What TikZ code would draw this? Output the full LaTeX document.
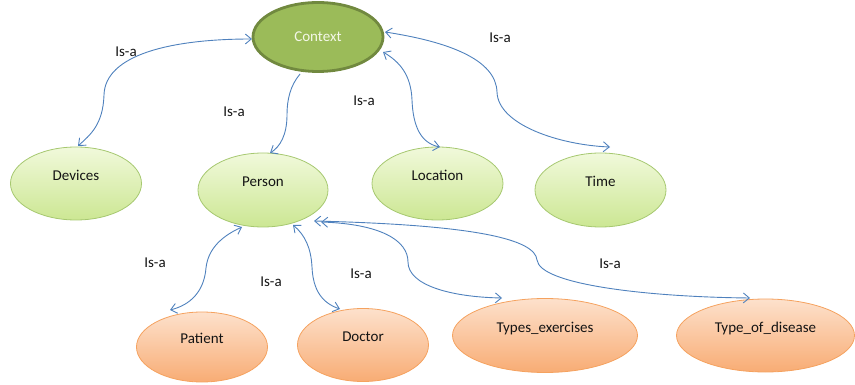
\documentclass[tikz,border=0pt]{standalone}
\usepackage{fontspec}
\setmainfont{Carlito}
\usetikzlibrary{arrows.meta,shapes.geometric}
\definecolor{grntop}{HTML}{F1F9DB}
\definecolor{grnbot}{HTML}{CCE793}
\definecolor{grnline}{HTML}{A6C870}
\definecolor{orgtop}{HTML}{FDE1CC}
\definecolor{orgbot}{HTML}{F8AC74}
\definecolor{orgline}{HTML}{F5A25F}
\definecolor{ctxfill}{HTML}{9BBB59}
\definecolor{ctxline}{HTML}{71893F}
\definecolor{ctxtext}{HTML}{F4F7E8}
\definecolor{arrowblue}{HTML}{4F81BD}
\definecolor{labeltext}{HTML}{141414}
\newcommand{\liftup}[1]{\raisebox{3.2pt}[0pt][0pt]{#1}}
\begin{document}
\begin{tikzpicture}[x=1pt,y=-1pt,
  every node/.style={font=\fontsize{15}{18}\selectfont, text=labeltext, inner sep=0pt},
  ctxnode/.style={ellipse, draw=ctxline, line width=2.8pt, fill=ctxfill, text=ctxtext,
    minimum width=130pt, minimum height=69pt},
  gnode/.style={ellipse, draw=grnline, line width=0.8pt, top color=grntop, bottom color=grnbot},
  onode/.style={ellipse, draw=orgline, line width=0.8pt, top color=orgtop, bottom color=orgbot},
  isa/.style={draw=arrowblue, line width=0.9pt,
    {Straight Barb[length=6pt,width=10pt]}-{Straight Barb[length=6pt,width=10pt]}},
  isaone/.style={draw=arrowblue, line width=0.9pt,
    -{Straight Barb[length=6pt,width=10pt]}},
  isalabel/.style={text=labeltext}
]
\useasboundingbox (0,0) rectangle (855,385);

% nodes
\node[ctxnode] (ctx) at (318,37) {Context};
\node[gnode, minimum width=131pt, minimum height=73pt] (dev) at (76,183.5) {\liftup{Devices}};
\node[gnode, minimum width=130pt, minimum height=74pt] (per) at (263,190) {\liftup{Person}};
\node[gnode, minimum width=131pt, minimum height=73pt] (loc) at (437.5,183.5) {\liftup{Location}};
\node[gnode, minimum width=131pt, minimum height=74pt] (tim) at (600.5,190) {\liftup{Time}};
\node[onode, minimum width=131pt, minimum height=70pt] (pat) at (202,347) {\liftup{Patient}};
\node[onode, minimum width=131pt, minimum height=73pt] (doc) at (363,345) {\liftup{Doctor}};
\node[onode, minimum width=185pt, minimum height=74pt] (typ) at (545,335.5) {\liftup{Types\_exercises}};
\node[onode, minimum width=178pt, minimum height=73pt] (dis) at (765.5,335.5) {\liftup{Type\_of\_disease}};

% labels
\node[isalabel] (l1) at (126,52) {Is-a};
\node[isalabel] (l2) at (234,112) {Is-a};
\node[isalabel] (l3) at (364,101) {Is-a};
\node[isalabel] (l4) at (500,38) {Is-a};
\node[isalabel] (l5) at (155,263) {Is-a};
\node[isalabel] (l6) at (271,282) {Is-a};
\node[isalabel] (l7) at (361,274) {Is-a};
\node[isalabel] (l8) at (610,264) {Is-a};

% connectors
\draw[isa] ([shift={(-66,2)}]ctx.center) .. controls (170,39) and (105,55) .. (104,95)
  .. controls (103,125) and (90,135) .. ([shift={(2,-37.5)}]dev.center);
\draw[isaone] ([shift={(-18,37)}]ctx.center) .. controls (290,86) and (287,100) .. (287,115)
  .. controls (287,135) and (280,147) .. ([shift={(7,-37)}]per.center);
\draw[isa] ([shift={(65,15)}]ctx.center) .. controls (400,62) and (411,75) .. (412,100)
  .. controls (413,125) and (420,143) .. ([shift={(2.5,-36.5)}]loc.center);
\draw[isa] ([shift={(67,-5)}]ctx.center) .. controls (450,42) and (496,60) .. (497,92)
  .. controls (498,125) and (560,145) .. ([shift={(9.5,-43)}]tim.center);
\draw[isa] ([shift={(-21,37)}]per.center) .. controls (220,237) and (208,250) .. (206,268)
  .. controls (204,292) and (190,305) .. ([shift={(-32,-37)}]pat.center);
\draw[isa] ([shift={(30,35)}]per.center) .. controls (305,235) and (311,248) .. (312,267)
  .. controls (313,290) and (322,303) .. ([shift={(-23,-36)}]doc.center);
\draw[isa] ([shift={(58,32)}]per.center) .. controls (380,224) and (408,240) .. (408,262)
  .. controls (408,285) and (450,297) .. ([shift={(-43,-37.5)}]typ.center);
\draw[isa] ([shift={(51,31)}]per.center) .. controls (480,225) and (535,240) .. (537,260)
  .. controls (540,285) and (650,297) .. ([shift={(-15.5,-37.5)}]dis.center);
\end{tikzpicture}
\end{document}
